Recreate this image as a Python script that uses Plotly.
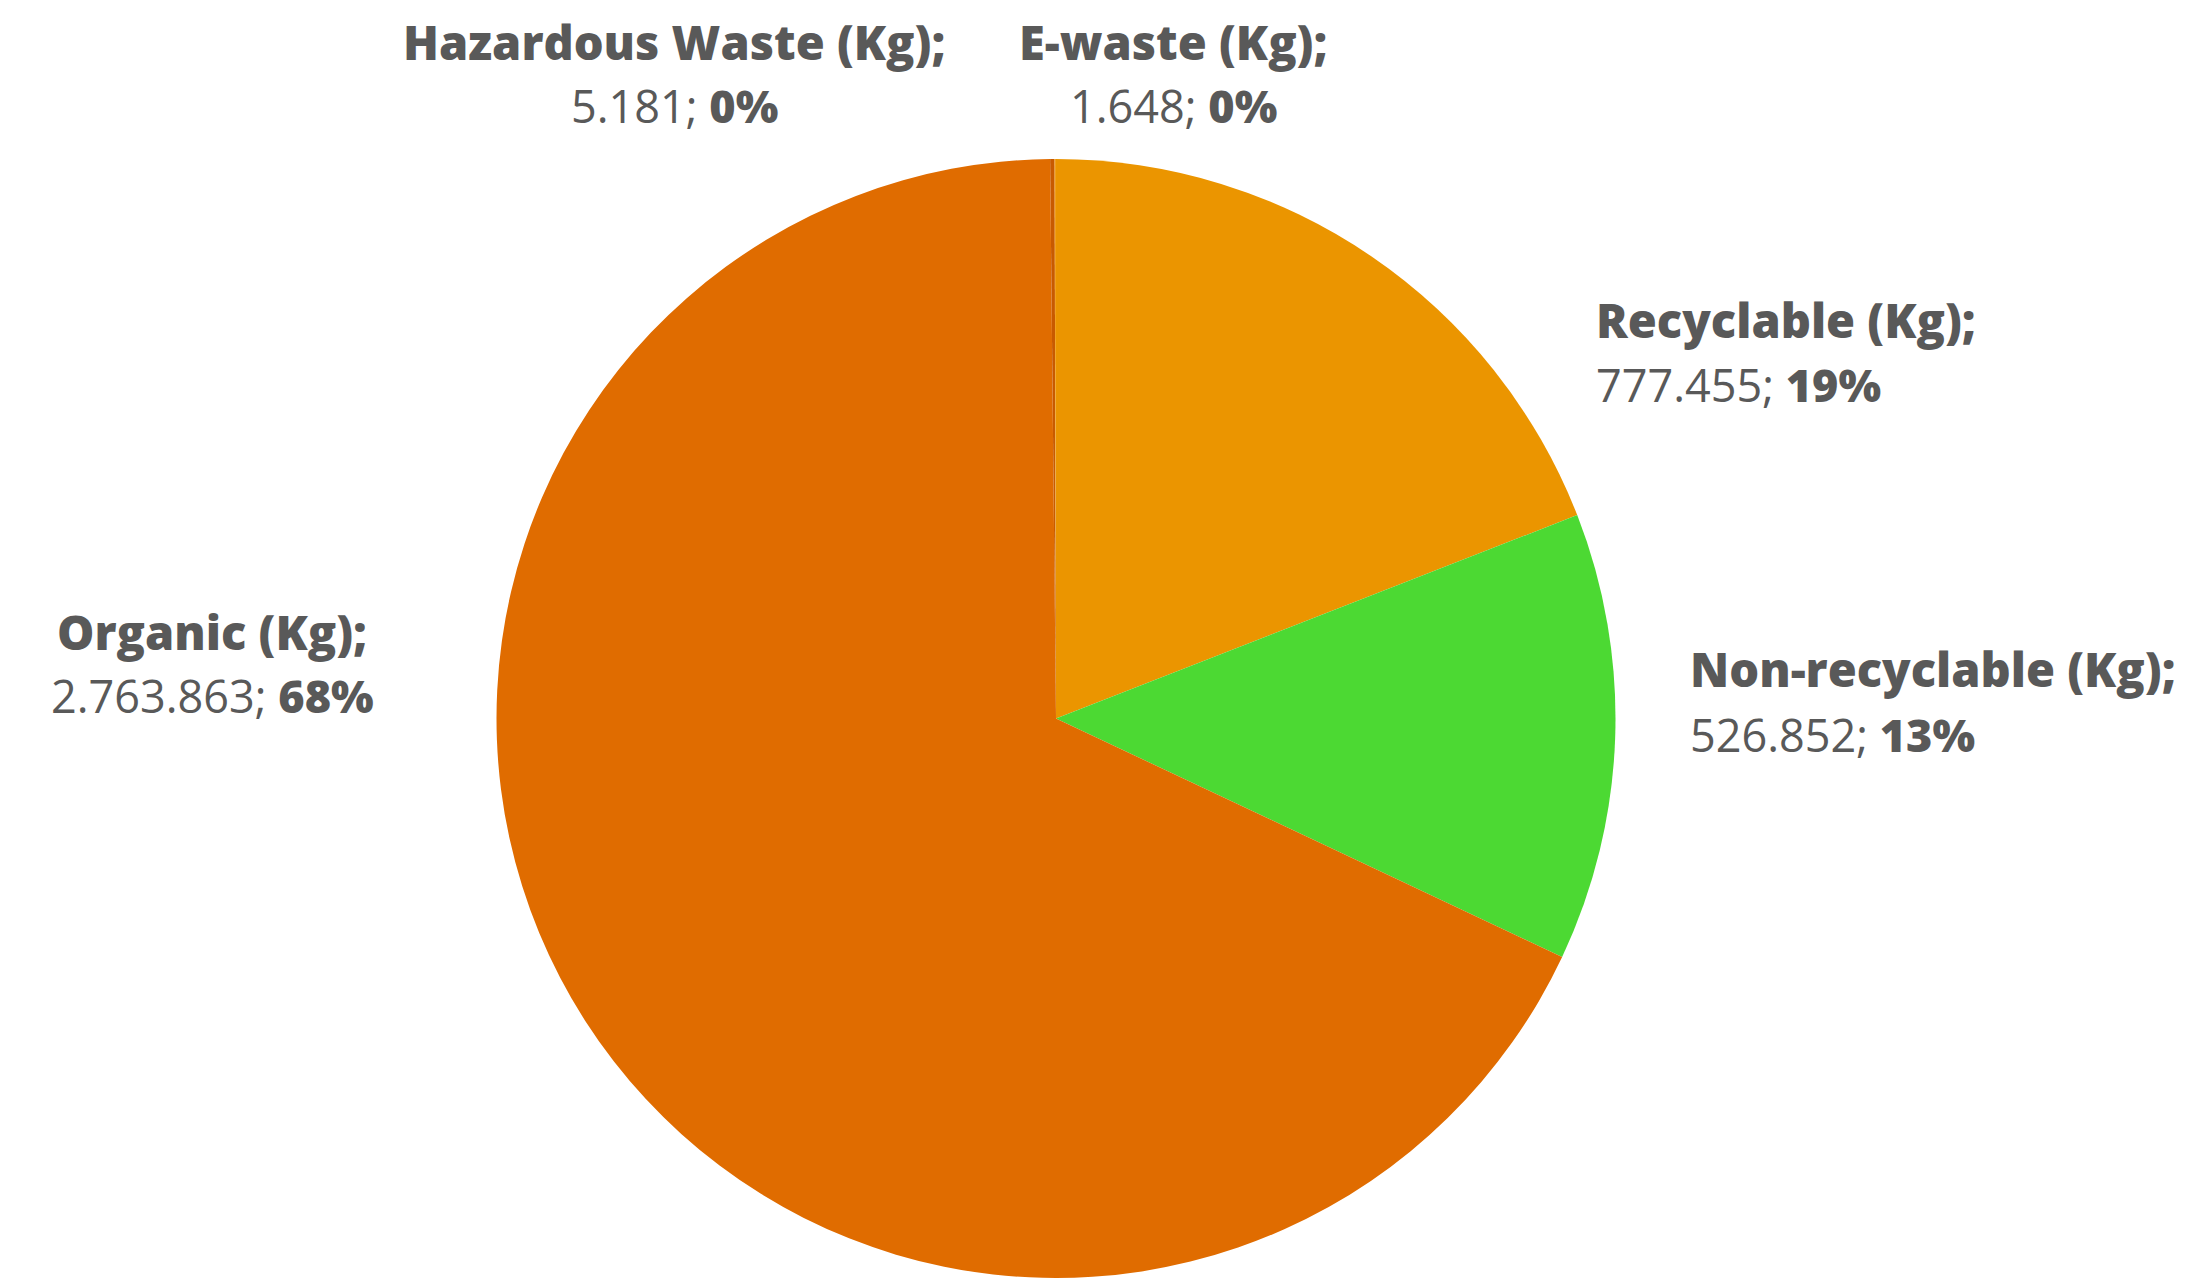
import plotly.graph_objects as go

categories = ["Recyclable (Kg)", "Non-recyclable (Kg)", "Organic (Kg)", "Hazardous Waste (Kg)", "E-waste (Kg)"]
values = [777455, 526852, 2763863, 5181, 1648]
value_labels = ["777.455", "526.852", "2.763.863", "5.181", "1.648"]
pct_labels = ["19%", "13%", "68%", "0%", "0%"]
colors = ["#EB9500", "#4CD933", "#E06C00", "#C85A00", "#F0A020"]

W, H = 2187, 1278
cx, cy, r = 1056, 719, 560

fig = go.Figure(go.Pie(
    labels=categories, values=values, sort=False, direction="clockwise", rotation=0,
    marker=dict(colors=colors, line=dict(width=0)),
    textinfo="none", hoverinfo="label+value+percent",
    domain=dict(x=[(cx - r) / W, (cx + r) / W], y=[max(0, (H - cy - r) / H), (H - cy + r) / H]),
    showlegend=False,
))

# label positions (pixel centres: x, y of name line, y of value line, anchor)
label_pos = {
    "Recyclable (Kg)": (1594, 320, 384, "left"),
    "Non-recyclable (Kg)": (1688, 669, 734, "left"),
    "Organic (Kg)": (212, 632, 695, "center"),
    "Hazardous Waste (Kg)": (674, 42, 106, "center"),
    "E-waste (Kg)": (1173, 42, 106, "center"),
}
FONT = "Open Sans"
col = "#595959"
fs_title = 47
fs = 45
for cat, v, p in zip(categories, value_labels, pct_labels):
    x, y1, y2, anc = label_pos[cat]
    fig.add_annotation(x=x / W, y=1 - y1 / H, xref="paper", yref="paper", xanchor=anc, yanchor="middle",
                       text=f"{cat};", showarrow=False,
                       font=dict(family=FONT, size=fs_title, color=col, weight=800))
    fig.add_annotation(x=x / W, y=1 - y2 / H, xref="paper", yref="paper", xanchor=anc, yanchor="middle",
                       text=f"{v}; <span style='font-weight:800'>{p}</span>", showarrow=False,
                       font=dict(family=FONT, size=fs, color=col))

fig.update_layout(width=W, height=H, margin=dict(l=0, r=0, t=0, b=0),
                  paper_bgcolor="white", plot_bgcolor="white")
fig.write_html("out.html")
